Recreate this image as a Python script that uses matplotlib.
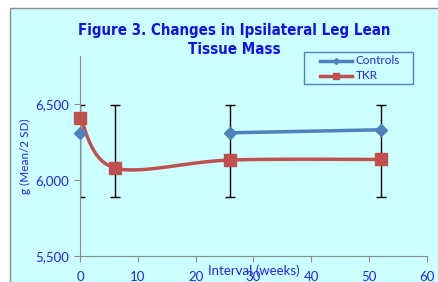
import numpy as np
import matplotlib
matplotlib.use('Agg')
import matplotlib.pyplot as plt
from matplotlib.patches import Rectangle
from matplotlib.lines import Line2D

# data
ctrl_x = [0, 26, 52]
ctrl_y = [6310, 6310, 6330]
tkr_x = [0, 6, 26, 52]
tkr_y = [6408, 6079, 6131, 6135]
err_x = [0, 6, 26, 52]
err_lo = [5890, 5890, 5890, 5890]
err_hi = [6492, 6492, 6492, 6492]
series_names = ['Controls', 'TKR']

BG = '#CCFFFF'
BLUE_TXT = '#2222EE'
C_CTRL = '#4F81BD'
C_TKR = '#C0504D'
W, H = 439, 282


def smooth(xs, ys, n=40):
    # Excel-style smoothed line: Catmull-Rom converted to cubic Bezier
    P = np.column_stack([xs, ys]).astype(float)
    P = np.vstack([P[0], P, P[-1]])
    out = []
    for i in range(1, len(P) - 2):
        p0, p1, p2, p3 = P[i - 1], P[i], P[i + 1], P[i + 2]
        c1 = p1 + (p2 - p0) / 6
        c2 = p2 - (p3 - p1) / 6
        t = np.linspace(0, 1, n)[:, None]
        seg = ((1 - t) ** 3 * p1 + 3 * (1 - t) ** 2 * t * c1
               + 3 * (1 - t) * t ** 2 * c2 + t ** 3 * p2)
        out.append(seg)
    seg = np.vstack(out)
    return seg[:, 0], seg[:, 1]


def fx(px): return px / W
def fy(py): return 1 - py / H


fig = plt.figure(figsize=(W / 100, H / 100), dpi=100)
fig.patch.set_facecolor('white')
fig.patches.append(Rectangle((fx(10), -0.05), 1.0, fy(8) + 0.05,
                             transform=fig.transFigure, facecolor=BG,
                             edgecolor='#8C8C8C', linewidth=1, zorder=-5))

ax = fig.add_axes([fx(80), fy(256), 347 / W, 200 / H])
ax.set_facecolor('none')
ax.set_zorder(2)

mid = [(a + b) / 2 for a, b in zip(err_lo, err_hi)]
ax.errorbar(err_x, mid,
            yerr=[[m - a for m, a in zip(mid, err_lo)],
                  [b - m for m, b in zip(mid, err_hi)]],
            fmt='none', ecolor='black', elinewidth=1, capsize=3.5, capthick=1, zorder=2)

sx, sy = smooth(tkr_x, tkr_y)
ax.plot(sx, sy, color=C_TKR, lw=2.5, zorder=3)
ax.plot(tkr_x, tkr_y, 's', color=C_TKR, ms=8, zorder=4, clip_on=False)

ax.plot(ctrl_x[1:], ctrl_y[1:], color=C_CTRL, lw=2.5, zorder=3)
ax.plot(ctrl_x, ctrl_y, 'D', color=C_CTRL, ms=6, zorder=4, clip_on=False)

# legend box drawn by hand to match the Excel layout
fig.patches.append(Rectangle((fx(304), fy(84)), 109 / W, 32 / H,
                             transform=fig.transFigure, facecolor=BG,
                             edgecolor=C_CTRL, linewidth=1, zorder=5))
for name, col, mk, ms, py in [(series_names[0], C_CTRL, 'D', 3, 60.5),
                              (series_names[1], C_TKR, 's', 4, 76)]:
    fig.lines.append(Line2D([fx(320), fx(352)], [fy(py), fy(py)], color=col,
                            lw=2.5, transform=fig.transFigure, zorder=6))
    fig.lines.append(Line2D([fx(336)], [fy(py)], color=col, marker=mk, ms=ms,
                            transform=fig.transFigure, zorder=6))
    fig.text(fx(356), fy(py), name, color=BLUE_TXT, fontsize=8.5, family='Lato',
             va='center', ha='left', zorder=6)

ax.set_xlim(0, 60)
ax.set_ylim(5500, 6815)
ax.set_xticks(range(0, 61, 10))
ax.set_yticks([5500, 6000, 6500])
ax.set_yticklabels(['5,500', '6,000', '6,500'])
for s in ['top', 'right']:
    ax.spines[s].set_visible(False)
for s in ['left', 'bottom']:
    ax.spines[s].set_color('#8C8C8C')
ax.tick_params(colors='#8C8C8C', labelcolor=BLUE_TXT, labelsize=9.5, length=4.5,
               direction='out')
ax.tick_params(axis='x', pad=6)
for lab in ax.get_xticklabels() + ax.get_yticklabels():
    lab.set_family('Lato')

ax.set_xlabel('Interval (weeks)', color=BLUE_TXT, fontsize=9.5, family='Lato',
              labelpad=-13)
ax.set_ylabel('g (Mean/2 SD)', color=BLUE_TXT, fontsize=8.5, family='Lato',
              labelpad=3)

fig.text(fx(234), fy(40),
         'Figure 3. Changes in Ipsilateral Leg Lean\nTissue Mass',
         ha='center', va='center', color='#1010F0', fontsize=10.8,
         fontweight='bold', family='DejaVu Sans', fontstretch='condensed',
         linespacing=1.25)

fig.savefig('out.png', dpi=100, facecolor='white')
